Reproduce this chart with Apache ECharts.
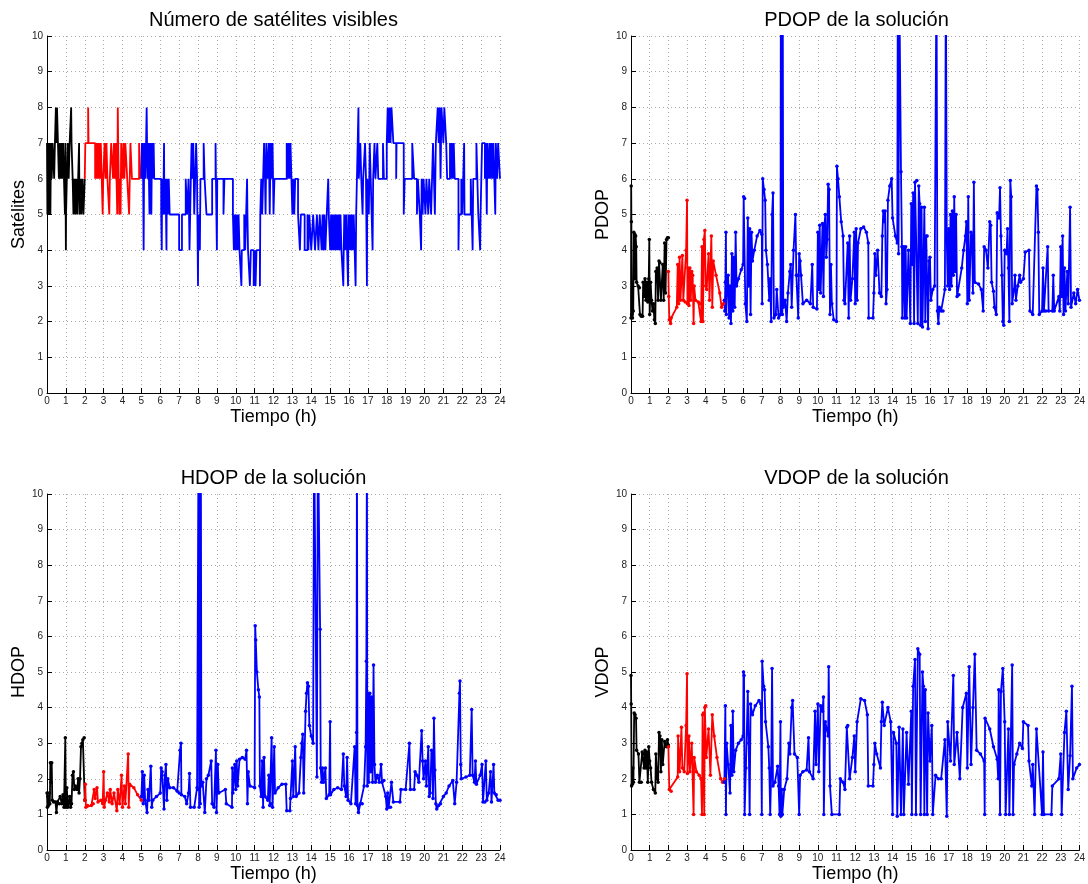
<!DOCTYPE html>
<html>
<head>
<meta charset="utf-8">
<script src="https://cdn.jsdelivr.net/npm/echarts@6/dist/echarts.min.js"></script>
<style>html,body{margin:0;background:#fff}#main{width:1088px;height:884px}</style>
</head>
<body>
<div id="main"></div>
<script>
var myChart = echarts.init(document.getElementById('main'));

var titles = ['Número de satélites visibles', 'PDOP de la solución', 'HDOP de la solución', 'VDOP de la solución'];
var yNames = ['Satélites', 'PDOP', 'HDOP', 'VDOP'];
var xName = 'Tiempo (h)';

// numero de satelites [t (h), sats]
var satBlack = [[0,7],[0.02,5],[0.04,7],[0.06,6],[0.08,7],[0.1,5],[0.13,7],[0.16,6],[0.18,5],[0.21,7],[0.25,6],[0.3,7],[0.38,6],[0.42,7],[0.47,8],[0.5,7],[0.53,8],[0.58,7],[0.63,6],[0.68,7],[0.72,6],[0.78,7],[0.8,6],[0.85,7],[0.9,6],[0.95,5],[0.97,7],[1.0,4],[1.01,5],[1.05,6],[1.1,7],[1.15,6],[1.2,7],[1.28,8],[1.3,7],[1.36,6],[1.4,5],[1.45,6],[1.5,5],[1.55,6],[1.6,5],[1.65,6],[1.7,7],[1.72,5],[1.78,6],[1.82,5],[1.88,6],[1.93,5],[2.0,6]];
var satRed = [[2.0,6],[2.03,7],[2.18,8],[2.2,7],[2.55,6],[2.58,7],[2.62,6],[2.66,7],[2.7,6],[2.75,7],[2.8,6],[2.85,7],[2.95,5],[2.98,6],[3.05,7],[3.1,6],[3.15,7],[3.2,6],[3.3,5],[3.33,6],[3.4,7],[3.5,6],[3.55,7],[3.6,6],[3.65,7],[3.72,5],[3.75,8],[3.77,7],[3.8,6],[3.83,5],[3.86,6],[3.9,5],[3.93,7],[4.0,6],[4.05,7],[4.1,6],[4.15,7],[4.25,6],[4.35,5],[4.42,7],[4.5,6],[4.88,7],[4.95,6]];
var satBlue = [[5.0,6],[5.03,7],[5.06,6],[5.08,7],[5.12,4],[5.14,6],[5.18,7],[5.22,6],[5.25,7],[5.28,8],[5.3,7],[5.34,6],[5.37,7],[5.4,6],[5.43,5],[5.46,7],[5.5,6],[5.53,5],[5.56,7],[5.6,6],[5.65,7],[5.68,6],[6.05,5],[6.08,4],[6.1,6],[6.13,5],[6.18,6],[6.2,7],[6.22,5],[6.28,6],[6.33,4],[6.35,6],[6.4,5],[6.45,6],[6.5,5],[7.0,4],[7.15,5],[7.35,6],[7.42,5],[7.5,6],[7.55,4],[7.62,6],[7.66,7],[7.7,6],[7.75,7],[7.8,5],[7.85,6],[7.9,7],[7.95,6],[8.0,3],[8.02,5],[8.04,4],[8.07,5],[8.1,4],[8.13,6],[8.3,7],[8.35,6],[8.45,5],[8.75,6],[8.93,7],[8.95,6],[9.0,4],[9.02,6],[9.35,5],[9.4,6],[9.85,5],[9.9,4],[9.95,5],[10.0,4],[10.05,5],[10.1,4],[10.15,5],[10.2,4],[10.3,3],[10.32,4],[10.45,5],[10.5,4],[10.6,6],[10.62,5],[10.65,4],[10.75,3],[10.8,4],[10.95,3],[11.0,4],[11.05,3],[11.1,4],[11.28,3],[11.3,5],[11.35,6],[11.4,5],[11.45,6],[11.5,7],[11.55,6],[11.58,5],[11.62,7],[11.7,6],[11.75,7],[11.8,5],[11.85,7],[11.9,6],[11.95,7],[12.0,5],[12.05,6],[12.7,7],[12.75,6],[12.8,7],[12.85,6],[12.9,7],[12.95,6],[13.0,5],[13.05,6],[13.1,5],[13.15,6],[13.3,5],[13.4,4],[13.45,5],[13.65,4],[13.8,5],[13.85,4],[13.9,5],[14.0,4],[14.1,5],[14.2,4],[14.3,5],[14.38,4],[14.45,5],[14.55,4],[14.6,5],[14.65,4],[14.7,5],[14.75,4],[14.82,5],[14.9,6],[14.93,5],[15.0,4],[15.05,5],[15.1,4],[15.15,5],[15.2,4],[15.25,5],[15.3,4],[15.35,5],[15.4,4],[15.45,5],[15.5,4],[15.55,5],[15.6,4],[15.7,3],[15.72,4],[15.75,5],[15.8,4],[15.85,5],[15.9,4],[15.95,3],[15.97,5],[16.0,4],[16.05,5],[16.1,4],[16.15,5],[16.2,4],[16.25,5],[16.3,4],[16.35,3],[16.38,5],[16.42,6],[16.5,8],[16.52,6],[16.6,7],[16.65,6],[16.72,5],[16.75,6],[16.85,7],[16.9,6],[16.95,3],[16.97,6],[17.05,5],[17.1,7],[17.15,6],[17.25,4],[17.28,6],[17.35,7],[17.4,6],[17.5,7],[17.55,6],[17.8,7],[17.85,6],[18.0,7],[18.05,8],[18.1,7],[18.15,8],[18.2,7],[18.25,8],[18.35,7],[18.5,6],[18.52,7],[18.9,5],[18.95,6],[19.35,7],[19.45,6],[19.6,5],[19.65,6],[19.75,5],[19.82,4],[19.85,6],[19.9,5],[19.95,6],[20.05,5],[20.1,6],[20.2,5],[20.25,6],[20.35,5],[20.4,6],[20.45,7],[20.5,6],[20.55,5],[20.6,7],[20.7,8],[20.75,7],[20.8,8],[20.85,6],[20.9,8],[21.0,7],[21.05,8],[21.15,7],[21.2,6],[21.35,7],[21.4,6],[21.45,7],[21.5,6],[21.55,7],[21.6,6],[21.8,4],[21.83,5],[21.95,6],[22.0,5],[22.1,7],[22.12,5],[22.45,6],[22.55,4],[22.58,6],[22.75,7],[22.85,5],[22.95,4],[22.97,5],[23.05,7],[23.2,6],[23.25,7],[23.3,5],[23.33,7],[23.4,6],[23.45,7],[23.5,6],[23.55,7],[23.6,6],[23.65,7],[23.75,5],[23.78,7],[23.85,6],[23.9,7],[24.0,6]];

// PDOP
var pdopBlack = [[0,2.1],[0.01,5.8],[0.02,4.8],[0.04,2.2],[0.08,2.1],[0.12,2.3],[0.15,4.5],[0.2,4.45],[0.22,3.2],[0.25,4.4],[0.28,4.1],[0.3,3.1],[0.38,3.0],[0.45,2.95],[0.48,2.2],[0.55,2.15],[0.62,2.15],[0.65,3.1],[0.7,2.7],[0.75,3.2],[0.8,2.6],[0.85,3.1],[0.9,2.55],[0.95,3.2],[0.98,4.3],[1.0,2.2],[1.05,3.1],[1.1,2.6],[1.15,2.3],[1.2,2.5],[1.25,2.05],[1.3,1.95],[1.33,3.4],[1.4,3.5],[1.45,2.6],[1.5,3.7],[1.55,3.65],[1.6,2.6],[1.7,3.6],[1.75,2.6],[1.8,4.2],[1.85,2.8],[1.9,4.3],[1.95,4.35],[2.0,4.35]];
var pdopRed = [[2.0,3.4],[2.02,2.7],[2.05,2.05],[2.12,1.95],[2.15,2.1],[2.45,2.4],[2.5,3.6],[2.55,2.5],[2.6,3.8],[2.65,2.6],[2.75,3.85],[2.8,2.6],[2.9,2.55],[2.95,4.0],[3.0,5.4],[3.02,2.5],[3.05,3.5],[3.1,2.45],[3.15,3.5],[3.2,2.6],[3.25,3.4],[3.3,3.3],[3.35,1.95],[3.38,3.0],[3.45,2.6],[3.6,2.55],[3.7,2.5],[3.75,2.0],[3.8,4.1],[3.85,2.0],[3.9,4.3],[3.95,4.55],[4.0,3.0],[4.05,2.9],[4.15,3.9],[4.2,2.6],[4.3,4.4],[4.35,2.4],[4.4,3.7],[4.55,3.3],[4.75,2.8],[4.85,2.4],[4.95,2.5],[5.0,2.6]];
var pdopBlue = [[5.0,2.6],[5.02,2.3],[5.05,3.1],[5.08,4.5],[5.1,2.2],[5.15,3.2],[5.2,3.3],[5.25,2.1],[5.3,3.0],[5.35,1.95],[5.4,3.9],[5.45,2.3],[5.5,3.8],[5.55,2.4],[5.6,4.5],[5.65,3.0],[5.75,3.2],[5.9,3.45],[6.0,3.6],[6.03,5.5],[6.08,5.45],[6.12,2.5],[6.2,2.0],[6.25,4.9],[6.3,3.0],[6.35,4.6],[6.4,2.2],[6.45,4.5],[6.5,3.7],[6.6,4.0],[6.75,4.4],[6.9,4.55],[7.0,4.45],[7.02,2.5],[7.05,6.0],[7.12,5.7],[7.18,5.4],[7.22,4.0],[7.3,3.6],[7.4,2.6],[7.45,3.2],[7.5,2.0],[7.55,5.0],[7.6,5.6],[7.65,2.1],[7.75,2.2],[7.8,2.9],[7.9,2.1],[8.0,2.2],[8.02,12],[8.05,2.3],[8.07,12],[8.1,2.2],[8.12,12],[8.15,2.4],[8.25,2.6],[8.33,2.0],[8.4,2.8],[8.5,3.4],[8.55,3.6],[8.6,2.4],[8.7,4.0],[8.8,5.0],[8.85,3.3],[8.9,3.3],[8.95,2.1],[9.0,3.9],[9.05,3.7],[9.1,3.3],[9.2,2.5],[9.4,2.6],[9.6,2.5],[9.7,3.6],[9.75,2.4],[9.95,2.35],[10.0,4.5],[10.05,2.9],[10.1,4.7],[10.15,2.8],[10.25,4.75],[10.3,2.7],[10.35,4.7],[10.4,5.0],[10.45,3.8],[10.5,4.3],[10.55,5.85],[10.6,5.7],[10.65,2.2],[10.7,3.6],[10.75,2.5],[10.85,2.05],[11.0,2.0],[11.02,6.35],[11.08,6.0],[11.15,5.5],[11.25,4.8],[11.35,4.4],[11.4,2.6],[11.45,2.5],[11.6,4.2],[11.65,2.1],[11.7,4.4],[11.75,2.6],[11.85,3.2],[11.95,4.5],[12.0,2.5],[12.05,4.6],[12.1,2.6],[12.15,4.2],[12.3,4.6],[12.45,4.65],[12.6,4.5],[12.7,4.2],[12.72,2.1],[12.95,2.1],[13.0,2.8],[13.05,3.9],[13.1,3.3],[13.2,4.0],[13.3,2.8],[13.4,2.7],[13.45,4.4],[13.5,5.1],[13.55,4.8],[13.6,5.1],[13.65,2.5],[13.7,2.9],[13.75,5.4],[13.85,5.8],[13.95,6.0],[14.0,4.9],[14.15,4.4],[14.25,4.2],[14.28,12],[14.32,3.9],[14.35,12],[14.4,12],[14.45,6.2],[14.5,4.1],[14.52,2.1],[14.6,4.1],[14.65,2.1],[14.7,4.1],[14.75,2.1],[14.85,4.0],[14.95,1.95],[15.0,5.3],[15.05,3.6],[15.1,5.6],[15.15,1.95],[15.2,5.9],[15.3,5.95],[15.35,1.95],[15.4,5.8],[15.45,5.3],[15.5,1.9],[15.55,5.2],[15.6,1.85],[15.7,5.2],[15.75,2.0],[15.8,4.4],[15.85,4.4],[15.9,1.8],[15.95,3.7],[16.0,3.8],[16.05,2.6],[16.15,2.9],[16.25,3.0],[16.35,12],[16.4,2.3],[16.45,1.95],[16.5,2.4],[16.6,2.3],[16.7,2.3],[16.8,2.9],[16.85,12],[16.9,4.3],[16.95,3.0],[17.0,4.6],[17.05,2.9],[17.1,5.0],[17.15,3.0],[17.2,5.1],[17.25,3.3],[17.3,5.5],[17.35,3.4],[17.4,5.0],[17.45,2.7],[17.55,2.75],[17.7,3.5],[17.8,4.0],[17.9,4.4],[17.95,4.8],[18.0,2.5],[18.05,5.5],[18.1,2.6],[18.2,4.5],[18.25,4.4],[18.3,2.8],[18.35,5.9],[18.4,3.1],[18.6,3.05],[18.75,2.9],[18.85,2.3],[18.9,4.1],[19.0,4.0],[19.1,3.5],[19.2,4.8],[19.25,4.7],[19.3,3.1],[19.4,2.85],[19.45,2.4],[19.55,2.2],[19.6,5.05],[19.7,4.9],[19.75,5.75],[19.8,4.4],[19.85,3.3],[19.9,2.0],[19.95,1.9],[20.0,4.0],[20.1,3.9],[20.15,4.6],[20.2,3.5],[20.25,2.0],[20.3,5.95],[20.35,5.5],[20.4,2.5],[20.5,2.9],[20.55,3.3],[20.6,2.6],[20.7,3.0],[20.8,3.3],[20.85,3.1],[21.0,3.2],[21.1,3.95],[21.3,4.0],[21.35,2.3],[21.5,2.2],[21.7,5.8],[21.75,5.7],[21.8,4.5],[21.85,2.2],[22.0,2.3],[22.05,3.5],[22.1,2.3],[22.2,2.3],[22.3,4.1],[22.35,2.3],[22.55,2.3],[22.6,3.3],[22.65,2.3],[22.9,2.7],[22.95,2.3],[23.0,4.1],[23.05,2.7],[23.1,4.4],[23.15,2.2],[23.2,3.5],[23.25,2.3],[23.35,3.4],[23.4,2.5],[23.5,5.2],[23.55,2.4],[23.7,2.8],[23.8,2.5],[23.9,2.9],[24.0,2.6]];

// HDOP
var hdopBlack = [[0,1.6],[0.02,1.2],[0.05,1.5],[0.08,1.25],[0.12,1.6],[0.15,1.3],[0.18,2.45],[0.22,1.9],[0.25,2.45],[0.28,1.4],[0.35,1.35],[0.45,1.35],[0.5,1.05],[0.55,1.35],[0.65,1.3],[0.7,1.5],[0.78,1.3],[0.85,1.55],[0.9,1.2],[0.97,3.15],[1.0,1.2],[1.05,1.75],[1.1,1.2],[1.15,1.3],[1.2,1.5],[1.25,1.2],[1.3,1.3],[1.35,2.1],[1.4,2.2],[1.45,1.7],[1.5,1.8],[1.6,1.7],[1.65,2.0],[1.7,1.6],[1.75,2.0],[1.8,2.9],[1.85,3.0],[1.9,3.1],[1.97,3.15],[2.0,1.4]];
var hdopRed = [[2.0,1.4],[2.03,1.85],[2.06,1.2],[2.15,1.25],[2.35,1.25],[2.45,1.3],[2.5,1.7],[2.55,1.45],[2.65,1.75],[2.7,1.35],[2.85,1.4],[2.95,1.3],[3.0,2.2],[3.03,1.2],[3.1,1.4],[3.2,1.6],[3.3,1.35],[3.35,1.7],[3.45,1.3],[3.55,1.6],[3.7,1.1],[3.75,1.7],[3.85,1.3],[3.95,2.1],[4.0,1.2],[4.1,1.8],[4.15,1.3],[4.3,2.7],[4.33,1.2],[4.38,1.85],[4.6,1.75],[4.8,1.55],[5.0,1.4]];
var hdopBlue = [[5.0,1.5],[5.05,2.2],[5.1,1.3],[5.15,2.1],[5.2,1.4],[5.3,1.05],[5.35,1.7],[5.4,1.4],[5.5,2.35],[5.55,1.2],[5.6,1.4],[5.8,1.5],[6.0,1.6],[6.05,2.3],[6.1,2.2],[6.2,1.15],[6.25,2.1],[6.3,2.4],[6.35,1.4],[6.4,2.0],[6.5,1.75],[6.7,1.75],[6.9,1.65],[7.0,1.6],[7.05,2.8],[7.1,3.0],[7.12,1.55],[7.3,1.5],[7.4,1.3],[7.5,1.6],[7.55,2.15],[7.6,1.2],[7.8,1.2],[7.95,1.75],[8.0,1.7],[8.03,12],[8.06,1.2],[8.09,12],[8.12,1.3],[8.15,12],[8.18,1.8],[8.25,1.9],[8.36,1.05],[8.45,2.0],[8.55,2.1],[8.7,2.5],[8.75,1.3],[8.85,1.2],[8.95,2.8],[8.98,1.05],[9.05,2.4],[9.1,1.6],[9.45,1.7],[9.5,1.3],[9.8,1.2],[9.82,2.3],[9.85,1.6],[9.95,2.4],[10.0,1.7],[10.05,2.5],[10.1,1.8],[10.2,2.55],[10.35,2.6],[10.5,2.55],[10.57,2.8],[10.62,1.3],[10.66,2.2],[10.75,1.8],[11.0,1.75],[11.03,6.3],[11.06,5.9],[11.12,5.0],[11.2,4.5],[11.25,4.3],[11.28,1.8],[11.35,1.5],[11.4,2.5],[11.45,1.2],[11.5,2.6],[11.55,1.5],[11.7,1.4],[11.75,2.1],[11.8,1.25],[11.88,1.3],[11.9,3.15],[11.95,1.2],[12.04,2.9],[12.08,1.6],[12.25,1.75],[12.45,1.85],[12.65,1.85],[12.7,1.1],[12.87,1.1],[12.9,1.45],[13.0,2.5],[13.05,1.5],[13.15,2.9],[13.2,1.5],[13.35,1.6],[13.45,2.6],[13.5,3.0],[13.55,3.25],[13.6,1.6],[13.7,3.9],[13.75,4.4],[13.8,4.7],[13.85,4.6],[13.9,3.5],[14.0,3.2],[14.1,3.0],[14.15,12],[14.25,12],[14.3,2.05],[14.35,12],[14.42,12],[14.47,6.2],[14.5,2.3],[14.55,1.9],[14.6,2.3],[14.65,1.9],[14.75,2.3],[14.8,1.45],[14.95,1.55],[15.0,3.6],[15.02,1.55],[15.2,1.7],[15.4,1.75],[15.6,1.7],[15.7,2.7],[15.75,1.8],[15.85,1.5],[15.9,2.6],[15.95,1.4],[16.1,1.3],[16.3,2.9],[16.35,1.3],[16.4,3.3],[16.42,12],[16.45,1.25],[16.5,1.05],[16.6,1.3],[16.7,1.3],[16.8,1.8],[16.88,2.9],[16.92,5.3],[16.95,12],[16.97,1.8],[17.0,4.4],[17.05,1.9],[17.1,4.4],[17.15,2.2],[17.2,4.3],[17.25,1.9],[17.3,5.2],[17.35,2.4],[17.4,1.9],[17.5,2.1],[17.6,1.9],[17.7,2.4],[17.75,1.9],[17.85,1.95],[17.95,1.5],[18.0,1.15],[18.05,1.6],[18.1,1.2],[18.2,1.2],[18.25,1.9],[18.35,1.35],[18.7,1.35],[18.75,1.7],[19.0,1.7],[19.2,3.0],[19.25,1.7],[19.45,1.7],[19.5,2.2],[19.6,2.1],[19.7,1.9],[19.85,3.35],[19.9,2.5],[19.95,2.0],[20.05,2.5],[20.1,1.8],[20.2,2.9],[20.25,1.5],[20.3,1.6],[20.37,2.8],[20.42,2.7],[20.45,1.45],[20.5,3.7],[20.55,2.25],[20.6,1.3],[20.65,1.15],[20.75,1.25],[20.85,1.3],[21.0,1.5],[21.15,1.6],[21.3,1.8],[21.5,1.95],[21.6,1.3],[21.7,1.9],[21.85,4.4],[21.88,4.75],[21.92,2.4],[21.95,2.0],[22.2,2.05],[22.4,2.1],[22.5,3.95],[22.55,2.1],[22.65,1.9],[22.7,2.5],[22.75,1.85],[22.95,2.1],[23.05,2.4],[23.1,1.35],[23.2,1.35],[23.25,2.5],[23.3,1.4],[23.4,1.6],[23.5,2.2],[23.55,1.35],[23.66,2.4],[23.7,1.6],[23.8,1.55],[23.9,1.4],[24.0,1.4]];

// VDOP
var vdopBlack = [[0,4.9],[0.01,4.1],[0.03,1.8],[0.07,1.85],[0.1,2.3],[0.13,1.9],[0.17,3.85],[0.22,3.8],[0.27,3.7],[0.3,2.8],[0.4,2.7],[0.45,1.9],[0.55,1.9],[0.6,2.75],[0.65,2.7],[0.7,2.3],[0.75,2.8],[0.8,2.3],[0.85,2.75],[0.9,1.9],[0.95,2.9],[1.0,2.5],[1.05,2.3],[1.1,1.9],[1.2,1.7],[1.3,1.6],[1.33,2.7],[1.4,2.0],[1.45,1.9],[1.5,3.3],[1.55,3.2],[1.6,2.2],[1.65,3.1],[1.7,2.4],[1.8,3.05],[1.9,2.9],[1.95,3.1],[2.0,2.95]];
var vdopRed = [[2.0,2.9],[2.05,1.7],[2.15,1.65],[2.5,2.05],[2.52,3.2],[2.6,2.2],[2.7,3.45],[2.75,2.3],[2.85,2.2],[2.95,3.5],[3.0,4.95],[3.02,2.15],[3.1,3.2],[3.15,2.2],[3.25,3.0],[3.35,1.0],[3.38,2.6],[3.5,2.2],[3.65,2.1],[3.75,2.0],[3.8,1.0],[3.83,3.8],[3.88,3.85],[3.92,1.0],[3.95,4.0],[4.0,4.05],[4.03,2.6],[4.15,3.4],[4.25,2.1],[4.35,3.8],[4.45,3.2],[4.6,2.6],[4.8,2.0],[4.9,1.9],[5.0,2.0]];
var vdopBlue = [[5.0,1.9],[5.05,4.05],[5.08,1.0],[5.12,3.0],[5.2,2.4],[5.3,1.6],[5.35,3.5],[5.4,2.1],[5.45,3.9],[5.5,2.2],[5.6,2.8],[5.75,3.0],[5.9,3.1],[6.0,3.2],[6.02,5.0],[6.05,4.9],[6.08,1.0],[6.15,2.3],[6.25,4.45],[6.3,3.0],[6.35,1.0],[6.4,4.1],[6.5,3.8],[6.65,4.05],[6.85,4.2],[6.95,4.1],[7.0,1.0],[7.02,5.3],[7.1,4.6],[7.15,4.5],[7.2,3.6],[7.35,2.9],[7.4,2.3],[7.45,1.0],[7.5,2.1],[7.55,5.1],[7.6,1.8],[7.7,1.9],[7.85,2.35],[7.9,1.8],[7.95,1.0],[8.0,3.6],[8.02,0.95],[8.07,1.7],[8.1,1.0],[8.2,1.7],[8.35,2.0],[8.45,3.0],[8.5,2.7],[8.6,4.0],[8.65,4.2],[8.75,2.7],[8.9,2.6],[9.0,1.0],[9.05,2.1],[9.2,2.2],[9.4,2.25],[9.5,3.15],[9.55,2.2],[9.75,2.0],[9.85,3.9],[9.9,2.4],[10.0,4.1],[10.05,2.2],[10.15,4.05],[10.25,3.9],[10.3,4.3],[10.32,1.0],[10.4,3.6],[10.55,3.2],[10.58,5.15],[10.65,1.8],[10.75,1.0],[11.15,1.0],[11.2,2.0],[11.35,1.9],[11.45,1.7],[11.55,3.45],[11.6,3.5],[11.7,2.0],[11.85,2.6],[11.95,3.2],[12.0,2.2],[12.1,3.6],[12.3,4.25],[12.5,4.2],[12.65,3.8],[12.7,1.8],[12.95,1.8],[13.0,2.4],[13.05,3.0],[13.15,2.7],[13.35,2.3],[13.4,3.6],[13.45,4.15],[13.55,3.5],[13.75,4.0],[13.9,3.6],[14.0,1.0],[14.05,3.3],[14.2,3.0],[14.25,0.95],[14.35,3.45],[14.45,1.0],[14.55,3.4],[14.6,1.0],[14.75,3.3],[14.85,1.85],[15.0,3.9],[15.03,1.0],[15.1,4.6],[15.2,5.35],[15.25,1.0],[15.35,5.65],[15.45,5.5],[15.5,1.0],[15.6,5.0],[15.65,4.6],[15.7,1.0],[15.75,4.5],[15.85,1.0],[15.9,3.85],[16.0,2.5],[16.1,3.5],[16.15,1.0],[16.3,2.1],[16.45,2.0],[16.6,2.0],[16.8,3.1],[16.9,0.95],[16.95,3.6],[17.1,2.5],[17.25,4.9],[17.3,2.4],[17.45,3.3],[17.6,2.0],[17.75,4.0],[17.95,4.4],[18.0,2.3],[18.1,5.15],[18.2,2.4],[18.3,4.0],[18.4,5.5],[18.5,2.8],[18.7,2.7],[18.9,2.5],[18.93,1.0],[18.95,3.7],[19.2,3.4],[19.4,2.9],[19.6,2.55],[19.65,2.0],[19.68,4.5],[19.75,1.0],[19.8,4.45],[19.9,5.1],[20.0,3.6],[20.05,1.0],[20.2,3.4],[20.25,1.0],[20.4,5.2],[20.45,1.0],[20.5,2.4],[20.65,2.7],[20.8,3.0],[20.95,2.85],[21.0,3.6],[21.25,3.5],[21.3,2.5],[21.45,1.8],[21.5,2.4],[21.6,1.0],[21.7,3.4],[22.0,1.0],[22.05,2.75],[22.1,1.0],[22.5,1.0],[22.55,1.8],[22.9,2.0],[23.0,2.7],[23.05,1.0],[23.2,3.3],[23.3,3.9],[23.4,1.7],[23.5,2.65],[23.6,4.6],[23.65,2.0],[23.85,2.3],[24.0,2.4]];

var xTicks = 24, yTicks = 10;
var font = 'Liberation Sans, Arial, Helvetica, sans-serif';

var grids = [
    {left: 47, top: 36, width: 453, height: 357},
    {left: 631, top: 36, width: 451, height: 357},
    {left: 47, top: 494, width: 453, height: 357},
    {left: 631, top: 494, width: 451, height: 357}
];

var gridLine = {show: true, lineStyle: {color: '#aaaaaa', width: 1, type: [1, 3]}};

var xAxes = [], yAxes = [], titleList = [];
grids.forEach(function (g, i) {
    xAxes.push({
        type: 'value', gridIndex: i, min: 0, max: xTicks, interval: 1,
        name: xName, nameLocation: 'middle', nameGap: 15,
        nameTextStyle: {fontSize: 18, color: '#000', fontFamily: font},
        axisLine: {show: true, onZero: false, lineStyle: {color: '#000', width: 1}},
        axisTick: {show: true, inside: true, length: 5, lineStyle: {color: '#000'}},
        axisLabel: {fontSize: 10, color: '#222', margin: 3, fontFamily: font},
        splitLine: gridLine
    });
    yAxes.push({
        type: 'value', gridIndex: i, min: 0, max: yTicks, interval: 1,
        name: yNames[i], nameLocation: 'middle', nameGap: 18, nameRotate: 90,
        nameTextStyle: {fontSize: 18, color: '#000', fontFamily: font},
        axisLine: {show: true, onZero: false, lineStyle: {color: '#000', width: 1}},
        axisTick: {show: true, inside: true, length: 5, lineStyle: {color: '#000'}},
        axisLabel: {fontSize: 10, color: '#222', margin: 4, fontFamily: font},
        splitLine: gridLine
    });
    titleList.push({
        text: titles[i], left: g.left + g.width / 2, top: g.top - 26,
        textAlign: 'center', padding: 0,
        textStyle: {fontSize: 20, fontWeight: 'normal', color: '#000', fontFamily: font}
    });
});

function mk(data, color, gi, step) {
    return {
        type: 'line', xAxisIndex: gi, yAxisIndex: gi, data: data,
        step: step ? 'end' : false,
        showSymbol: !step, symbol: 'circle', symbolSize: 3.5,
        itemStyle: {color: color},
        lineStyle: {color: color, width: 1.8},
        clip: true, silent: true
    };
}

var series = [
    mk(satBlack, '#000000', 0, true), mk(satRed, '#ff0000', 0, true), mk(satBlue, '#0000ff', 0, true),
    mk(pdopBlack, '#000000', 1), mk(pdopRed, '#ff0000', 1), mk(pdopBlue, '#0000ff', 1),
    mk(hdopBlack, '#000000', 2), mk(hdopRed, '#ff0000', 2), mk(hdopBlue, '#0000ff', 2),
    mk(vdopBlack, '#000000', 3), mk(vdopRed, '#ff0000', 3), mk(vdopBlue, '#0000ff', 3)
];

myChart.setOption({
    animation: false,
    backgroundColor: '#fff',
    title: titleList,
    grid: grids,
    xAxis: xAxes,
    yAxis: yAxes,
    series: series
});
</script>
</body>
</html>
